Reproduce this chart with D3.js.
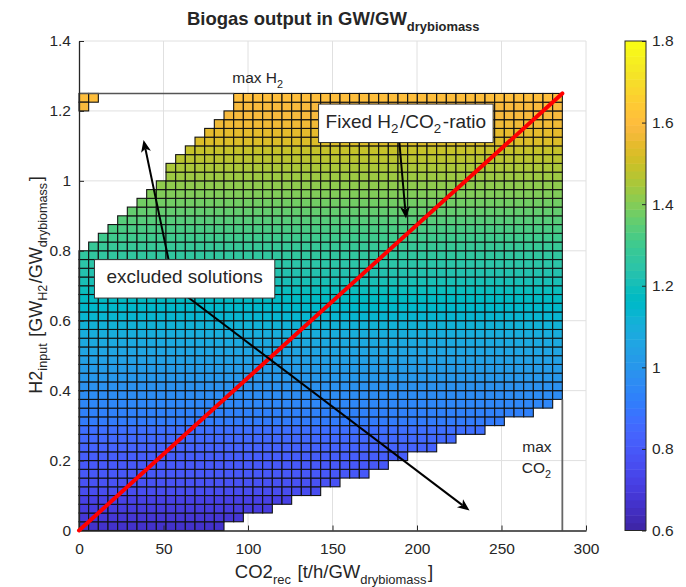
<!DOCTYPE html>
<html><head><meta charset="utf-8">
<script src="https://cdn.jsdelivr.net/npm/d3@7"></script>
<style>
body{margin:0;background:#fff}
svg text{font-family:"Liberation Sans",Arial,Helvetica,sans-serif;fill:#262626}
</style>
</head><body>
<svg id="c" width="686" height="587"></svg>
<script>
// ---------- data ----------
const xTicks = [0, 50, 100, 150, 200, 250, 300];
const yTicks = [0, 0.2, 0.4, 0.6, 0.8, 1, 1.2, 1.4];
const cbTicks = [0.6, 0.8, 1, 1.2, 1.4, 1.6, 1.8];
const co2Max = 286;      // t/h/GW
const h2Max = 1.25;      // GW/GW
const nCols = 50;
const nRows = 50;
// biogas output per H2 row (bottom -> top)
const rowValues = [0.67,0.69,0.71,0.73,0.75,0.77,0.79,0.80,0.82,0.84,
                   0.86,0.88,0.90,0.92,0.94,0.96,0.98,1.00,1.02,1.04,
                   1.06,1.07,1.09,1.11,1.13,1.15,1.17,1.19,1.21,1.23,
                   1.25,1.27,1.29,1.31,1.32,1.34,1.36,1.38,1.40,1.42,
                   1.44,1.46,1.48,1.50,1.52,1.54,1.56,1.58,1.59,1.61];
// first valid row per CO2 column
const colBottomRow = [0,0,0,0,0,0,0,0,0,0,0,0,0,0,0,
                      1,1,2,2,2,3,3,4,4,4,5,5,6,6,6,7,7,8,8,
                      9,9,9,10,10,11,11,11,12,12,13,13,13,14,14,15];
// first invalid row per CO2 column (exclusive top)
const colTopRow = [32,33,34,35,36,37,38,39,40,42,43,44,45,46,47,48,
                   50,50,50,50,50,50,50,50,50,50,50,50,50,50,50,50,50,
                   50,50,50,50,50,50,50,50,50,50,50,50,50,50,50,50,50];
const extraCells = [[0,49],[1,49],[0,48]]; // [col,row]
// annotations (data units)
const arrows = [
  {from:[55.0,0.728], to:[38.2,1.117]},
  {from:[47.9,0.728], to:[231.1,0.057]},
  {from:[189.5,1.114], to:[193.5,0.892]}
];
const parula = [
[0.2422,0.1504,0.6603],[0.2504,0.1650,0.7076],[0.2578,0.1818,0.7511],[0.2647,0.1978,0.7952],
[0.2706,0.2147,0.8364],[0.2751,0.2342,0.8710],[0.2783,0.2559,0.8991],[0.2803,0.2782,0.9221],
[0.2813,0.3006,0.9414],[0.2810,0.3228,0.9579],[0.2795,0.3447,0.9717],[0.2760,0.3667,0.9829],
[0.2699,0.3892,0.9906],[0.2602,0.4123,0.9952],[0.2440,0.4358,0.9988],[0.2206,0.4603,0.9973],
[0.1963,0.4847,0.9892],[0.1834,0.5074,0.9798],[0.1786,0.5289,0.9682],[0.1764,0.5499,0.9520],
[0.1687,0.5703,0.9359],[0.1540,0.5902,0.9218],[0.1460,0.6091,0.9079],[0.1380,0.6276,0.8973],
[0.1248,0.6459,0.8883],[0.1113,0.6635,0.8763],[0.0952,0.6798,0.8598],[0.0689,0.6948,0.8394],
[0.0297,0.7082,0.8163],[0.0036,0.7203,0.7917],[0.0067,0.7312,0.7660],[0.0433,0.7411,0.7394],
[0.0964,0.7500,0.7120],[0.1408,0.7584,0.6842],[0.1717,0.7670,0.6554],[0.1938,0.7758,0.6251],
[0.2161,0.7843,0.5923],[0.2470,0.7918,0.5567],[0.2906,0.7973,0.5188],[0.3406,0.8008,0.4789],
[0.3909,0.8029,0.4354],[0.4456,0.8024,0.3909],[0.5044,0.7993,0.3480],[0.5616,0.7942,0.3045],
[0.6174,0.7876,0.2612],[0.6720,0.7793,0.2227],[0.7242,0.7698,0.1910],[0.7738,0.7598,0.1646],
[0.8203,0.7498,0.1535],[0.8634,0.7406,0.1596],[0.9035,0.7330,0.1774],[0.9393,0.7288,0.2100],
[0.9728,0.7298,0.2394],[0.9956,0.7434,0.2371],[0.9970,0.7659,0.2199],[0.9952,0.7893,0.2028],
[0.9892,0.8136,0.1885],[0.9786,0.8386,0.1766],[0.9676,0.8639,0.1643],[0.9610,0.8890,0.1537],
[0.9597,0.9135,0.1423],[0.9628,0.9373,0.1265],[0.9691,0.9606,0.1064],[0.9769,0.9839,0.0805]];

// ---------- scales ----------
const svg = d3.select('#c');
const x = d3.scaleLinear().domain([0, 300]).range([79, 586]);
const y = d3.scaleLinear().domain([0, 1.4]).range([530.5, 41]);
const cmin = cbTicks[0], cmax = cbTicks[cbTicks.length-1];
const cIdx = d3.scaleLinear().domain([cmin, cmax]).range([0, parula.length]);
const colorOf = v => {
  const i = Math.max(0, Math.min(parula.length-1, Math.floor(cIdx(v))));
  const p = parula[i];
  return d3.rgb(p[0]*255, p[1]*255, p[2]*255).formatHex();
};
const ink = '#262626';

// ---------- grid ----------
const grid = svg.append('g');
grid.selectAll('line.gx').data(xTicks.filter(d => d > 0)).join('line')
  .attr('x1', d => x(d)).attr('x2', d => x(d)).attr('y1', y(0)).attr('y2', y(1.4))
  .attr('stroke', '#e0e0e0').attr('stroke-width', 1);
grid.selectAll('line.gy').data(yTicks.filter(d => d > 0)).join('line')
  .attr('x1', x(0)).attr('x2', x(300)).attr('y1', d => y(d)).attr('y2', d => y(d))
  .attr('stroke', '#e0e0e0').attr('stroke-width', 1);

// ---------- cells ----------
const dxc = co2Max / nCols, dyc = h2Max / nRows;
const cells = [];
colBottomRow.forEach((b, c) => {
  for (let r = b; r < colTopRow[c]; r++) cells.push({c, r, v: rowValues[r]});
});
extraCells.forEach(([c, r]) => cells.push({c, r, v: rowValues[r]}));
svg.append('g').selectAll('rect').data(cells).join('rect')
  .attr('x', d => x(d.c*dxc)).attr('y', d => y((d.r+1)*dyc))
  .attr('width', x(dxc) - x(0)).attr('height', y(0) - y(dyc))
  .attr('fill', d => colorOf(d.v))
  .attr('stroke', '#121212').attr('stroke-width', 1.1);

// max H2 line (from 0 to first full-height column)
const firstFull = colTopRow.findIndex(t => t === nRows);
svg.append('line')
  .attr('x1', x(0)).attr('x2', x(firstFull*dxc)).attr('y1', y(h2Max)).attr('y2', y(h2Max))
  .attr('stroke', '#555').attr('stroke-width', 1.6);
// max CO2 line
svg.append('line')
  .attr('x1', x(co2Max)).attr('x2', x(co2Max))
  .attr('y1', y(0)).attr('y2', y(colBottomRow[nCols-1]*dyc))
  .attr('stroke', '#666').attr('stroke-width', 1.8);

// ---------- axes ----------
const fmt = d => String(+d.toFixed(1));
const gx = svg.append('g').attr('transform', `translate(0,${y(0)})`)
  .call(d3.axisBottom(x).tickValues(xTicks).tickSize(-5).tickSizeOuter(0).tickPadding(12).tickFormat(fmt));
const gy = svg.append('g').attr('transform', `translate(${x(0)},0)`)
  .call(d3.axisLeft(y).tickValues(yTicks).tickSize(-5).tickSizeOuter(0).tickPadding(8).tickFormat(fmt));
[gx, gy].forEach(g => {
  g.select('.domain').attr('stroke', ink).attr('stroke-width', 1.3);
  g.selectAll('.tick line').attr('stroke', ink).attr('stroke-width', 1);
  g.selectAll('.tick text').attr('fill', ink).style('font-size', '15.5px')
    .style('font-family', '"Liberation Sans",Arial,sans-serif');
});
gx.selectAll('.tick').filter(d => d === 0).select('line').remove();
gy.selectAll('.tick').filter(d => d === 0).select('line').remove();

// fixed ratio line
svg.append('line')
  .attr('x1', x(0)).attr('y1', y(0)).attr('x2', x(co2Max)).attr('y2', y(h2Max))
  .attr('stroke', '#ff0000').attr('stroke-width', 4).attr('stroke-linecap', 'round');

// ---------- arrows ----------
function arrow(a) {
  const x1 = x(a.from[0]), y1 = y(a.from[1]), x2 = x(a.to[0]), y2 = y(a.to[1]);
  const ang = Math.atan2(y2 - y1, x2 - x1);
  const L = 12, W = 5, back = 9;
  const ux = Math.cos(ang), uy = Math.sin(ang), px = -uy, py = ux;
  svg.append('line').attr('x1', x1).attr('y1', y1)
    .attr('x2', x2 - ux*back).attr('y2', y2 - uy*back)
    .attr('stroke', '#000').attr('stroke-width', 2);
  const pts = [[x2, y2], [x2 - ux*L + px*W, y2 - uy*L + py*W],
               [x2 - ux*back, y2 - uy*back], [x2 - ux*L - px*W, y2 - uy*L - py*W]];
  svg.append('path').attr('d', 'M' + pts.map(p => p.join(',')).join('L') + 'Z').attr('fill', '#000');
}
arrows.forEach(arrow);

// ---------- text boxes ----------
function textBox(cx, cy, parts, size, padX, padY) {
  const g = svg.append('g');
  const rect = g.append('rect').attr('fill', '#fff').attr('stroke', '#333').attr('stroke-width', 1);
  const t = g.append('text').attr('x', cx).attr('y', cy).attr('text-anchor', 'middle')
    .style('font-size', size + 'px');
  addParts(t, parts, size);
  const bb = t.node().getBBox();
  rect.attr('x', bb.x - padX).attr('y', cy - size*0.72 - padY)
    .attr('width', bb.width + 2*padX).attr('height', size*0.72 + 2*padY + size*0.25);
}
function addParts(t, parts, size) {
  parts.forEach(p => {
    if (typeof p === 'string') t.append('tspan').text(p);
    else {
      t.append('tspan').attr('dy', size*0.3).style('font-size', (size*0.7) + 'px').text(p.sub);
      t.append('tspan').attr('dy', -size*0.3).text('\u200a');
    }
  });
}
textBox(x(193.4), y(1.169) + 6, ['Fixed H', {sub:'2'}, '/CO', {sub:'2'}, '-ratio'], 19, 7, 10);
textBox(x(62.5), y(0.727) + 7, ['excluded solutions'], 19, 12, 10);

// max H2 label
const mh = svg.append('text').attr('x', x(90.7)).attr('y', y(1.28)).style('font-size', '15.5px');
addParts(mh, ['max H', {sub:'2'}], 15.5);
// max CO2 label
svg.append('text').attr('x', x(271)).attr('y', y(0.2245)).attr('text-anchor', 'middle')
  .style('font-size', '15.5px').text('max');
const mc = svg.append('text').attr('x', x(271)).attr('y', y(0.164)).attr('text-anchor', 'middle')
  .style('font-size', '15.5px');
addParts(mc, ['CO', {sub:'2'}], 15.5);

// ---------- titles ----------
const title = svg.append('text').attr('x', 334).attr('y', 25).attr('text-anchor', 'middle')
  .style('font-size', '18.5px').style('font-weight', 'bold');
addParts(title, ['Biogas output in GW/GW', {sub:'drybiomass'}], 18.5);

const xl = svg.append('text').attr('x', 334).attr('y', 578).attr('text-anchor', 'middle')
  .style('font-size', '18.5px');
addParts(xl, ['CO2', {sub:'rec'}, ' [t/h/GW', {sub:'drybiomass'}, ']'], 18.5);

const yl = svg.append('text').attr('transform', 'translate(42,285) rotate(-90)')
  .attr('text-anchor', 'middle').style('font-size', '18px');
addParts(yl, ['H2', {sub:'input'}, ' [GW', {sub:'H2'}, '/GW', {sub:'drybiomass'}, ']'], 18);

// ---------- colorbar ----------
const cbX = 625, cbW = 21;
const cb = d3.scaleLinear().domain([cmin, cmax]).range([530.5, 41]);
const cbg = svg.append('g');
const step = (cmax - cmin) / parula.length;
cbg.selectAll('rect').data(parula).join('rect')
  .attr('x', cbX).attr('width', cbW)
  .attr('y', (d, i) => cb(cmin + (i+1)*step)).attr('height', cb(cmin) - cb(cmin + step) + 0.5)
  .attr('fill', d => d3.rgb(d[0]*255, d[1]*255, d[2]*255).formatHex());
cbg.append('rect').attr('x', cbX).attr('y', cb(cmax)).attr('width', cbW).attr('height', cb(cmin) - cb(cmax))
  .attr('fill', 'none').attr('stroke', ink).attr('stroke-width', 1);
const gc = svg.append('g').attr('transform', `translate(${cbX + cbW},0)`)
  .call(d3.axisRight(cb).tickValues(cbTicks).tickSize(-4).tickSizeOuter(0).tickPadding(6).tickFormat(fmt));
gc.select('.domain').remove();
gc.selectAll('.tick line').attr('stroke', ink);
gc.selectAll('.tick text').attr('fill', ink).style('font-size', '15.5px')
  .style('font-family', '"Liberation Sans",Arial,sans-serif');
</script>
</body></html>
